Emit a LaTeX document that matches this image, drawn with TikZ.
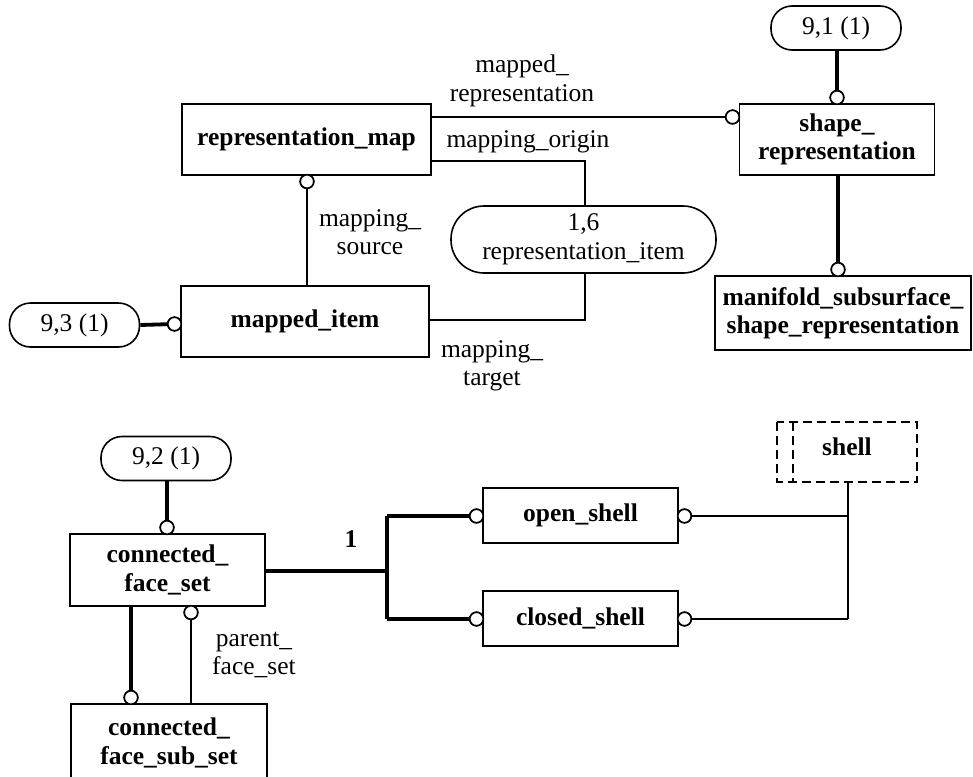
\documentclass[tikz,border=0pt]{standalone}
\usepackage{fontspec}
\setmainfont{Liberation Serif}
\usetikzlibrary{calc}
\begin{document}
\begin{tikzpicture}[x=1pt,y=-1pt,
  every node/.style={font=\fontsize{25.5}{28.5}\selectfont, align=center, inner sep=0pt},
  ent/.style={draw, line width=1.6pt, rectangle, font=\fontsize{25.5}{28.5}\selectfont\bfseries},
  refn/.style={draw, line width=1.6pt, rounded corners=21pt, minimum width=130, minimum height=44},
  tl/.style={line width=1.6pt},
  tk/.style={line width=3.8pt},
  ring/.style={circle, draw, line width=1.6pt, fill=white, minimum size=13.5, inner sep=0pt},
  lbl/.style={font=\fontsize{25.5}{28.5}\selectfont},
  dsh/.style={line width=1.8pt, dash pattern=on 9pt off 5pt}
]
\useasboundingbox (0,0) rectangle (973,776);

% ---- nodes ----
\node[ent, minimum width=249, minimum height=71] (repmap) at (306.5,139.5) {representation\_map};
\node[ent, minimum width=248, minimum height=71] (mitem) at (305,321.5) {mapped\_item};
\node[ent, minimum width=195, minimum height=71] (shrep) at (837,139.5) {shape\_\\representation};
\node[ent, minimum width=256, minimum height=74] (manif) at (843,313) {manifold\_subsurface\_\\shape\_representation};
\node[refn] (p91) at (836,28) {9,1 (1)};
\node[refn] (p93) at (74.5,325) {9,3 (1)};
\node[refn] (p92) at (166,458.5) {9,2 (1)};
\node[draw, line width=1.6pt, rounded corners=33pt, minimum width=265, minimum height=67] (ritem) at (583.5,239.5) {1,6\\representation\_item};
\node[ent, minimum width=195, minimum height=72] (cfs) at (167.5,570) {connected\_\\face\_set};
\node[ent, minimum width=195, minimum height=55] (oshell) at (580.5,515.5) {open\_shell};
\node[ent, minimum width=195, minimum height=55] (cshell) at (580.5,618.5) {closed\_shell};
\node[ent, draw=none, minimum width=138, minimum height=58] (shell) at (847,452) {};
\node[font=\fontsize{25.5}{28.5}\selectfont\bfseries] (shelltxt) at (847,447) {shell};
\node[ent, minimum width=196, minimum height=78] (cfss) at (169,743) {connected\_\\face\_sub\_set};

% shell dashed box
\draw[dsh] (shell.north west) rectangle (shell.south east);
\draw[dsh] ($(shell.north west)+(16,0)$) -- ($(shell.south west)+(16,0)$);

% ---- rings ----
\node[ring] (r1) at (307,181.5) {};
\node[ring] (r2) at (174.5,324) {};
\node[ring] (r3) at (732.5,117) {};
\node[ring] (r4) at (837,97.5) {};
\node[ring] (r5) at (838,269.5) {};
\node[ring] (r6) at (167,527.5) {};
\node[ring] (r7) at (476.5,516) {};
\node[ring] (r8) at (476.5,619) {};
\node[ring] (r9) at (684.5,516) {};
\node[ring] (r10) at (684.5,619) {};
\node[ring] (r11) at (131,697.5) {};
\node[ring] (r12) at (191,612.5) {};

% ---- connectors ----
\coordinate (jA) at (585,320);
\coordinate (jB) at (585,161);
\coordinate (jC) at (387,571);
\coordinate (jD) at (387,516);
\coordinate (jE) at (387,619);
\coordinate (jF) at (848,516);
\coordinate (jG) at (848,619);

\draw[tl] (r1) -- (r1 |- mitem.north);
\draw[tk] (p93.east) -- (r2);
\draw[tl] (mitem.east |- jA) -- (jA) -- (ritem.south -| jA);
\draw[tl] (repmap.east |- jB) -- (jB) -- (ritem.north -| jB);
\draw[tl] (repmap.east |- r3) -- (r3);
\draw[tk] (p91.south -| r4) -- (r4);
\draw[tk] (shrep.south -| r5) -- (r5);
\draw[tk] (p92.south -| r6) -- (r6);
\draw[tk] (cfs.east |- jC) -- (jC);
\draw[tk] (jD) -- (jE);
\draw[tk] (jD) -- (r7);
\draw[tk] (jE) -- (r8);
\draw[tl] (r9) -- (jF);
\draw[tl] (r10) -- (jG);
\draw[tl] (shell.south -| jF) -- (jG);
\draw[tk] (cfs.south -| r11) -- (r11);
\draw[tl] (r12) -- (r12 |- cfss.north);

% redraw rings on top
\foreach \r in {r1,r2,r3,r4,r5,r6,r7,r8,r9,r10,r11,r12}
  \node[ring] at (\r) {};

% ---- labels ----
\node[lbl] (lsrc) at (370,232) {mapping\_\\source};
\node[lbl] (lmrep) at (522,81) {mapped\_\\representation};
\node[lbl] (lorig) at (528,142) {mapping\_origin};
\node[lbl] (ltgt) at (492,366) {mapping\_\\target};
\node[lbl] (lpar) at (254,655) {parent\_\\face\_set};
\node[font=\fontsize{25.5}{28.5}\selectfont\bfseries] (lone) at (351,539) {1};
\end{tikzpicture}
\end{document}
